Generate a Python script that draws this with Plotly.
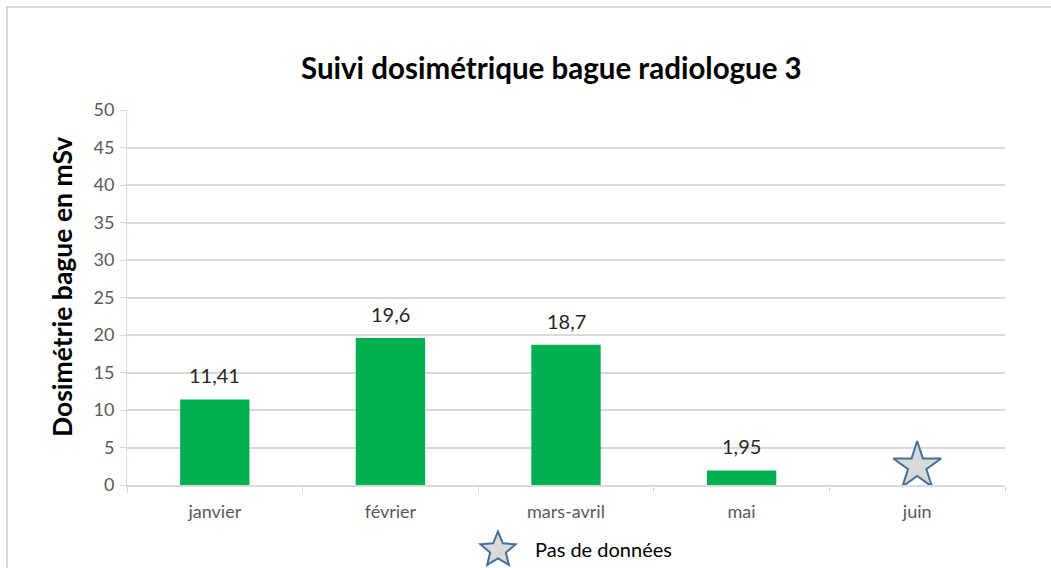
import math
import plotly.graph_objects as go

# Monthly ring dosimetry for radiologist 3 (mSv)
months = ["janvier", "février", "mars-avril", "mai", "juin"]
bar_months = ["janvier", "février", "mars-avril", "mai"]
dose_msv = [11.41, 19.6, 18.7, 1.95]
no_data_months = ["juin"]
no_data_marker_y = [2.5]
y_ticks = [0, 5, 10, 15, 20, 25, 30, 35, 40, 45, 50]
no_data_label = "Pas de données"

FONT = "Lato, 'Open Sans', sans-serif"
W, H = 1051, 568
L, R, T, B = 127, 46, 110, 83
PW, PH = W - L - R, H - T - B


def fr(v):
    return f"{v:g}".replace(".", ",")


def px_x(px):
    return (px - L) / PW


def px_y(py):
    return (H - B - py) / PH


def star_path(r_out, r_in):
    pts = []
    for i in range(10):
        r = r_out if i % 2 == 0 else r_in
        a = math.pi / 2 + i * math.pi / 5
        pts.append((r * math.cos(a), r * math.sin(a)))
    return "M" + " L".join(f"{x:.2f},{y:.2f}" for x, y in pts) + " Z"


fig = go.Figure()

fig.add_trace(go.Bar(
    x=bar_months,
    y=dose_msv,
    marker=dict(color="#00b050", line=dict(width=0)),
    width=0.395,
    showlegend=False,
    hoverinfo="x+y",
))

fig.add_trace(go.Scatter(
    x=no_data_months,
    y=no_data_marker_y,
    mode="markers",
    name=no_data_label,
    marker=dict(symbol="star", size=36, color="#d9d9d9",
                line=dict(color="#41719c", width=2)),
    cliponaxis=False,
    showlegend=False,
))

annotations = []
# Value labels above each bar
for m, v in zip(bar_months, dose_msv):
    annotations.append(dict(x=m, y=v, text=fr(v), showarrow=False,
                            yanchor="bottom", yshift=10,
                            font=dict(family=FONT, size=20, color="#262626")))

# Chart title, centred on the frame
annotations.append(dict(xref="paper", yref="paper", x=px_x(551), y=px_y(68),
                        text="<b>Suivi dosimétrique bague radiologue 3</b>",
                        showarrow=False, xanchor="center", yanchor="middle",
                        font=dict(family=FONT, size=29.5, color="#000000")))

# Y axis title
annotations.append(dict(xref="paper", yref="paper", x=px_x(62), y=px_y(287),
                        text="<b>Dosimétrie bague en mSv</b>", textangle=-90,
                        showarrow=False, xanchor="center", yanchor="middle",
                        font=dict(family=FONT, size=26.5, color="#000000")))

# Legend label for the "no data" marker
annotations.append(dict(xref="paper", yref="paper", x=px_x(533), y=px_y(549),
                        text=no_data_label, showarrow=False,
                        xanchor="left", yanchor="middle",
                        font=dict(family=FONT, size=20, color="#000000")))

shapes = [
    # chart frame
    dict(type="rect", xref="paper", yref="paper",
         x0=px_x(7), x1=px_x(W + 10), y0=px_y(H + 10), y1=px_y(7),
         line=dict(color="#d9d9d9", width=2), layer="below"),
    # legend star symbol
    dict(type="path", xref="paper", yref="paper",
         xsizemode="pixel", ysizemode="pixel",
         xanchor=px_x(498), yanchor=px_y(550),
         path=star_path(18.5, 8.3),
         fillcolor="#d9d9d9", line=dict(color="#41719c", width=2)),
]

fig.update_layout(
    width=W, height=H,
    margin=dict(l=L, r=R, t=T, b=B, autoexpand=False),
    paper_bgcolor="white",
    plot_bgcolor="white",
    font=dict(family=FONT),
    showlegend=False,
    annotations=annotations,
    shapes=shapes,
)

fig.update_xaxes(
    categoryorder="array", categoryarray=months,
    range=[-0.5, 4.5],
    showline=True, linecolor="#d9d9d9", linewidth=2,
    ticks="outside", tickson="boundaries", ticklen=6, tickcolor="#d9d9d9",
    tickfont=dict(family=FONT, size=18, color="#595959"),
    ticklabelstandoff=9,
    showgrid=False, automargin=False,
)

fig.update_yaxes(
    range=[0, 50], tickvals=y_ticks,
    showgrid=True, gridcolor="#d9d9d9", gridwidth=2,
    showline=True, linecolor="#d9d9d9", linewidth=1,
    ticks="outside", ticklen=6, tickcolor="#d9d9d9",
    tickfont=dict(family=FONT, size=18, color="#595959"),
    ticklabelstandoff=2,
    zeroline=False, automargin=False,
)

fig.write_html("out.html")
